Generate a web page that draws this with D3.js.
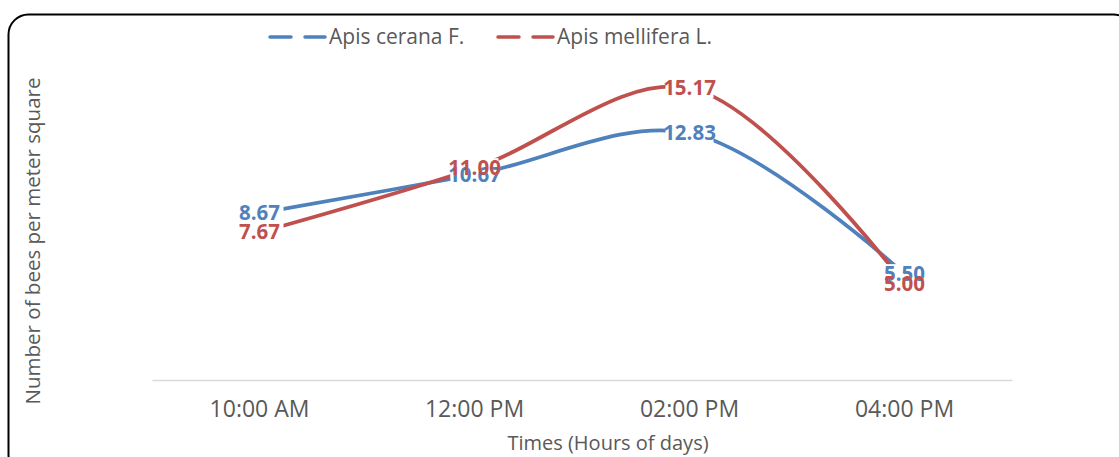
<!DOCTYPE html>
<html>
<head>
<meta charset="utf-8">
<script src="https://cdn.jsdelivr.net/npm/d3@7"></script>
<style>
  body { margin: 0; background: #fff; }
  svg text { font-family: "Open Sans", "Noto Sans", sans-serif; }
</style>
</head>
<body>
<script>
// chart data
var times = ["10:00 AM", "12:00 PM", "02:00 PM", "04:00 PM"];
var cerana = [8.67, 10.67, 12.83, 5.50];
var mellifera = [7.67, 11.00, 15.17, 5.00];
var seriesNames = ["Apis cerana F.", "Apis mellifera L."];
var seriesColors = ["#4F81BD", "#C0504D"];

var width = 1119, height = 457;
var plot = {left: 152, right: 1012, top: 72, bottom: 380};

var svg = d3.select("body").append("svg")
    .attr("width", width)
    .attr("height", height);

// rounded frame (runs off the right and bottom edge)
svg.append("rect")
    .attr("x", 8.5).attr("y", 14.5)
    .attr("width", 1125).attr("height", 460)
    .attr("rx", 20).attr("ry", 20)
    .attr("fill", "#fff")
    .attr("stroke", "#000")
    .attr("stroke-width", 2);

var x = d3.scaleBand().domain(times).range([plot.left, plot.right]);
var y = d3.scaleLinear().domain([0, 16]).range([plot.bottom, plot.top]);
var cx = function(d, i) { return x(times[i]) + x.bandwidth() / 2; };

// category axis
var xAxis = svg.append("g")
    .attr("transform", "translate(0," + plot.bottom + ")")
    .call(d3.axisBottom(x).tickSize(0).tickPadding(21));
xAxis.select(".domain").attr("stroke", "#d9d9d9").attr("stroke-width", 1.5);
xAxis.selectAll("text")
    .attr("fill", "#595959")
    .style("font-size", "23px")
    .style("font-family", "'Open Sans', sans-serif");

// axis titles
svg.append("text")
    .attr("x", 608).attr("y", 450)
    .attr("text-anchor", "middle")
    .attr("fill", "#595959")
    .style("font-size", "20px")
    .text("Times (Hours of days)");

svg.append("text")
    .attr("transform", "translate(40,241) rotate(-90)")
    .attr("text-anchor", "middle")
    .attr("fill", "#595959")
    .style("font-size", "20.5px")
    .text("Number of bees per meter square");

// lines
var line = d3.line()
    .x(cx)
    .y(function(d) { return y(d); })
    .curve(d3.curveCatmullRom.alpha(0.5));

[cerana, mellifera].forEach(function(vals, s) {
    svg.append("path")
        .datum(vals)
        .attr("fill", "none")
        .attr("stroke", seriesColors[s])
        .attr("stroke-width", 3.75)
        .attr("stroke-linecap", "round")
        .attr("d", line);
});

// data labels: white boxes first, then the numbers
var labels = [];
[cerana, mellifera].forEach(function(vals, s) {
    vals.forEach(function(v, i) {
        labels.push({x: cx(v, i), y: y(v), v: v, s: s});
    });
});
svg.selectAll("rect.lbl")
    .data(labels)
  .enter().append("rect")
    .attr("class", "lbl")
    .attr("x", function(d) { return d.x - 24; })
    .attr("y", function(d) { return d.y - 10; })
    .attr("width", 48).attr("height", 20)
    .attr("fill", "#fff");
svg.selectAll("text.lbl")
    .data(labels)
  .enter().append("text")
    .attr("class", "lbl")
    .attr("x", function(d) { return d.x; })
    .attr("y", function(d) { return d.y + 7; })
    .attr("text-anchor", "middle")
    .attr("fill", function(d) { return seriesColors[d.s]; })
    .style("font-size", "20.5px")
    .style("font-weight", "bold")
    .text(function(d) { return d.v.toFixed(2); });

// legend
var legendX = [270, 498];
seriesNames.forEach(function(name, s) {
    var g = svg.append("g").attr("transform", "translate(" + legendX[s] + ",37)");
    [[0, 21], [35, 55]].forEach(function(seg) {
        g.append("line")
            .attr("x1", seg[0]).attr("x2", seg[1])
            .attr("stroke", seriesColors[s])
            .attr("stroke-width", 3.5)
            .attr("stroke-linecap", "round");
    });
    g.append("text")
        .attr("x", 59).attr("y", 7)
        .attr("fill", "#595959")
        .style("font-size", "21px")
        .text(name);
});
</script>
</body>
</html>
